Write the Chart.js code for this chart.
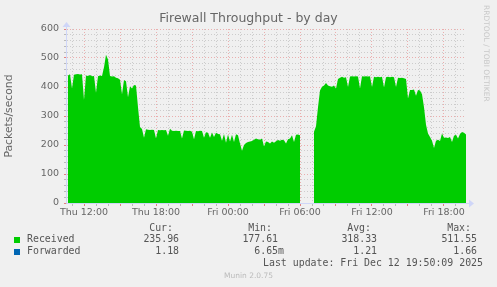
<!DOCTYPE html>
<html>
<head>
<meta charset="utf-8">
<script src="https://cdn.jsdelivr.net/npm/chart.js@4/dist/chart.umd.min.js"></script>
<style>
  html, body { margin: 0; padding: 0; background: #f0f0f0; }
  #wrap { position: relative; width: 497px; height: 287px; overflow: hidden; }
  #c { position: absolute; left: 0; top: 0; }
  .mono { position: absolute; font: 9.9px "DejaVu Sans Mono", monospace; color: #555; white-space: pre; line-height: 12px; }
  .sq { position: absolute; width: 6px; height: 6px; }
  #rrd { position: absolute; left: 482px; top: 5px; writing-mode: vertical-rl; font: 7.5px "DejaVu Sans", sans-serif; color: #c8c8c8; line-height: 9px; }
  #munin { position: absolute; left: 0; width: 497px; top: 271px; text-align: center; font: 7.5px "DejaVu Sans", sans-serif; color: #bbb; line-height: 9px; }
</style>
</head>
<body>
<div id="wrap">
  <canvas id="c" width="497" height="287"></canvas>
  <div id="rrd">RRDTOOL / TOBI OETIKER</div>
  <div id="munin">Munin 2.0.75</div>
</div>
<script>
// horas desde Thu 00:00, una muestra cada 10 min
const startHour = 10 + 40 / 60;
const stepHours = 10 / 60;
const xMin = 10 + 35 / 60;
const xMax = 43 + 50 / 60;

const chartTitle = 'Firewall Throughput - by day';
const tickHours = [12, 18, 24, 30, 36, 42];
const tickLabels = ['Thu 12:00', 'Thu 18:00', 'Fri 00:00', 'Fri 06:00', 'Fri 12:00', 'Fri 18:00'];

const received = [
  440, 444, 395, 442, 444, 445, 443, 444, 355, 440,
  438, 441, 437, 438, 380, 437, 440, 438, 468, 511,
  495, 438, 436, 437, 432, 430, 425, 375, 424, 420,
  365, 403, 395, 407, 405, 330, 262, 255, 225, 254,
  253, 252, 253, 252, 222, 252, 251, 252, 251, 252,
  232, 256, 249, 248, 249, 248, 248, 222, 250, 249,
  248, 249, 246, 220, 248, 247, 249, 248, 225, 244,
  242, 225, 243, 228, 242, 238, 237, 215, 238, 208,
  236, 212, 235, 210, 237, 234, 205, 180, 200, 207,
  210, 212, 214, 218, 222, 220, 218, 222, 195, 212,
  210, 205, 212, 208, 213, 217, 215, 218, 216, 205,
  220, 222, 234, 210, 235, 236, 234, null, null, null,
  null, null, null, 246, 265, 330, 388, 401, 405, 414,
  405, 403, 401, 405, 395, 428, 432, 435, 432, 434,
  400, 436, 437, 436, 437, 436, 395, 437, 436, 437,
  436, 437, 400, 435, 434, 435, 434, 435, 398, 434,
  435, 434, 435, 434, 400, 432, 431, 432, 430, 428,
  360, 390, 390, 391, 370, 390, 388, 375, 330, 270,
  240, 228, 215, 190, 215, 218, 214, 240, 225, 226,
  224, 228, 210, 232, 235, 222, 238, 245, 242, 236
];

const legendNames = ['Received', 'Forwarded'];
const legendColors = ['#00cc00', '#0066b3'];
const legendHeaders = ['Cur:', 'Min:', 'Avg:', 'Max:'];
const curVals = ['235.96 ', '1.18 '];
const minVals = ['177.61 ', '6.65m'];
const avgVals = ['318.33 ', '1.21 '];
const maxVals = ['511.55 ', '1.66 '];
const lastUpdate = 'Last update: Fri Dec 12 19:50:09 2025';

const points = received.map((v, i) => ({ x: startHour + i * stepHours, y: v }));

const FONT = '#666';
const AXIS = '#cfd6f8';
const MGRID = 'rgba(230,120,120,0.55)';
const GRID = 'rgba(150,150,150,0.4)';

// titulo centrado en todo el canvas (no solo en el area)
const pageTitle = {
  id: 'pageTitle',
  afterDraw(chart) {
    const { ctx } = chart;
    ctx.save();
    ctx.fillStyle = FONT;
    ctx.font = '12.5px "DejaVu Sans"';
    ctx.textAlign = 'center';
    ctx.textBaseline = 'middle';
    ctx.fillText(chartTitle, 248.5, 19);
    ctx.restore();
  }
};

// ejes con flechas como rrdtool
const axisArrows = {
  id: 'axisArrows',
  afterDraw(chart) {
    const { ctx, chartArea: a } = chart;
    ctx.save();
    ctx.strokeStyle = AXIS;
    ctx.fillStyle = AXIS;
    ctx.lineWidth = 1;
    ctx.beginPath();
    ctx.moveTo(a.left - 0.5, a.bottom + 0.5);
    ctx.lineTo(a.right + 4, a.bottom + 0.5);
    ctx.moveTo(a.left - 0.5, a.bottom + 0.5);
    ctx.lineTo(a.left - 0.5, a.top - 3);
    ctx.stroke();
    ctx.beginPath();
    ctx.moveTo(a.right + 8, a.bottom + 0.5);
    ctx.lineTo(a.right + 3, a.bottom - 3.5);
    ctx.lineTo(a.right + 3, a.bottom + 4.5);
    ctx.fill();
    ctx.beginPath();
    ctx.moveTo(a.left - 0.5, a.top - 7);
    ctx.lineTo(a.left - 4.5, a.top - 2);
    ctx.lineTo(a.left + 3.5, a.top - 2);
    ctx.fill();
    ctx.restore();
  }
};

new Chart(document.getElementById('c').getContext('2d'), {
  type: 'line',
  data: {
    datasets: [{
      label: 'Received',
      data: points,
      fill: 'origin',
      backgroundColor: '#00cc00',
      borderColor: '#00cc00',
      borderWidth: 0,
      pointRadius: 0,
      tension: 0,
      spanGaps: false,
    }]
  },
  options: {
    responsive: false,
    animation: false,
    layout: { padding: { top: 29, left: 0, right: 31, bottom: 0 } },
    plugins: {
      legend: { display: false },
      tooltip: { enabled: false },
      title: { display: false },
    },
    scales: {
      x: {
        type: 'linear',
        min: xMin,
        max: xMax,
        z: 1,
        afterBuildTicks: s => {
          const t = [];
          for (let h = 11; h <= 43; h++) t.push({ value: h });
          s.ticks = t;
        },
        afterFit: s => { s.height = 84; },
        ticks: {
          autoSkip: false,
          maxRotation: 0,
          padding: 1,
          color: FONT,
          font: { family: 'DejaVu Sans', size: 9.5 },
          callback: v => {
            const k = tickHours.indexOf(v);
            return k >= 0 ? tickLabels[k] : '';
          },
        },
        grid: {
          color: c => (c.tick && c.tick.value % 3 === 0) ? MGRID : GRID,
          tickColor: c => (c.tick && c.tick.value % 3 === 0) ? 'rgba(220,100,100,0.8)' : 'rgba(150,150,150,0.6)',
          tickLength: 3,
          tickBorderDash: [],
        },
        border: { display: false, dash: [1, 2] },
      },
      y: {
        min: 0,
        max: 600,
        z: 1,
        afterFit: s => { s.width = 67; },
        ticks: {
          stepSize: 20,
          autoSkip: false,
          padding: 5,
          color: FONT,
          font: { family: 'DejaVu Sans', size: 9.5 },
          callback: v => (v % 100 === 0 ? String(v) : ''),
        },
        grid: {
          color: c => (c.tick && c.tick.value % 100 === 0) ? MGRID : GRID,
          tickColor: c => (c.tick && c.tick.value % 100 === 0) ? 'rgba(220,100,100,0.8)' : 'rgba(150,150,150,0.6)',
          tickLength: 3,
          tickBorderDash: [],
        },
        border: { display: false, dash: [1, 2] },
        title: {
          display: true,
          text: 'Packets/second',
          color: FONT,
          font: { family: 'DejaVu Sans', size: 10.8 },
          padding: { top: 3, bottom: 0 },
        },
      },
    },
  },
  plugins: [pageTitle, axisArrows],
});

// leyenda tipo rrdtool
const wrap = document.getElementById('wrap');
function addText(txt, top, right, left) {
  const d = document.createElement('div');
  d.className = 'mono';
  d.textContent = txt;
  d.style.top = top + 'px';
  if (right !== null) { d.style.right = (497 - right) + 'px'; d.style.textAlign = 'right'; }
  else d.style.left = left + 'px';
  wrap.appendChild(d);
}
const colEdges = [185, 284, 383, 483];
const cols = [curVals, minVals, avgVals, maxVals];
legendHeaders.forEach((h, j) => addText(h, 222, colEdges[j] - 12, null));
legendNames.forEach((name, i) => {
  const top = 233 + i * 12;
  const sq = document.createElement('div');
  sq.className = 'sq';
  sq.style.left = '14px';
  sq.style.top = (237 + i * 12) + 'px';
  sq.style.background = legendColors[i];
  wrap.appendChild(sq);
  addText(name, top, null, 27);
  cols.forEach((vals, j) => addText(vals[i], top, colEdges[j], null));
});
addText(lastUpdate, 257, 483, null);
</script>
</body>
</html>
